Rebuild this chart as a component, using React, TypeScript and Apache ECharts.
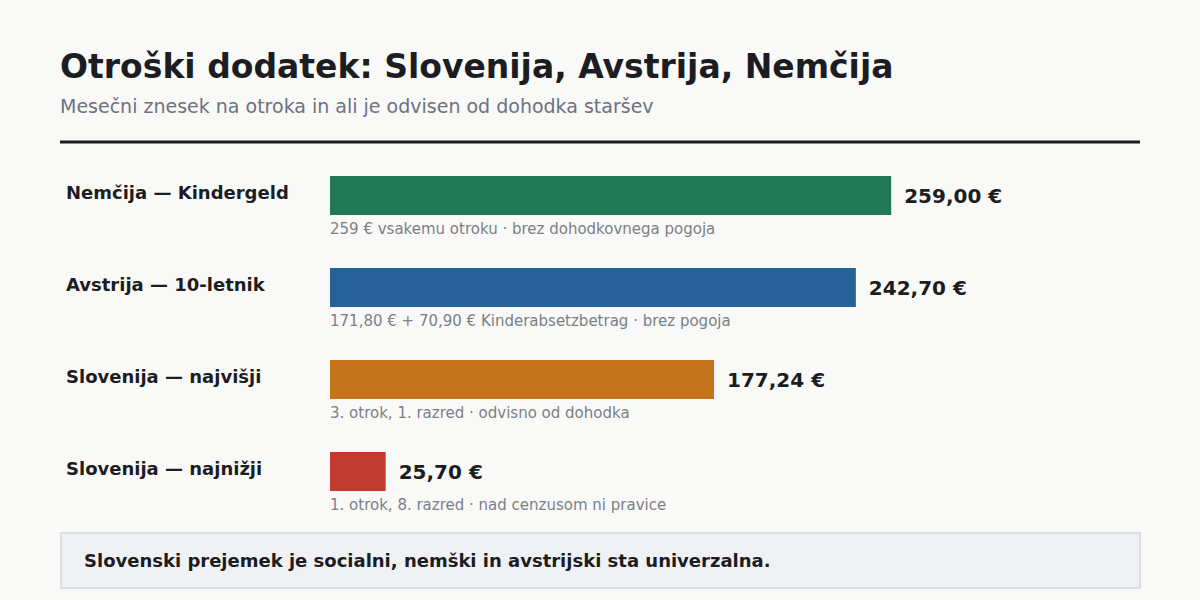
import * as echarts from 'echarts'
import { useEffect, useRef } from 'react'

const categories = ['Nemčija — Kindergeld', 'Avstrija — 10-letnik', 'Slovenija — najvišji', 'Slovenija — najnižji']
const amounts = [259.0, 242.7, 177.24, 25.7]
const barColors = ['#217a55', '#266197', '#c5741e', '#c23b30']
const notes = [
  '259 € vsakemu otroku · brez dohodkovnega pogoja',
  '171,80 € + 70,90 € Kinderabsetzbetrag · brez pogoja',
  '3. otrok, 1. razred · odvisno od dohodka',
  '1. otrok, 8. razred · nad cenzusom ni pravice',
]
const title = 'Otroški dodatek: Slovenija, Avstrija, Nemčija'
const subtitle = 'Mesečni znesek na otroka in ali je odvisen od dohodka staršev'
const footnote = 'Slovenski prejemek je socialni, nemški in avstrijski sta univerzalna.'

const font = '"DejaVu Sans", Verdana, sans-serif'
const ink = '#1c1d22'

function formatEuro(value: number) {
  return `${value.toFixed(2).replace('.', ',')} €`
}

export default function App() {
  const chartRef = useRef<HTMLDivElement>(null)

  useEffect(() => {
    document.body.style.margin = '0'
    const element = chartRef.current
    if (!element) return
    const instance = echarts.init(element, null, { renderer: 'svg' })

    instance.setOption({
      animation: false,
      backgroundColor: '#f9f9f8',
      textStyle: { fontFamily: font },
      grid: { left: 330, right: 220, top: 149.5, bottom: 82.5, containLabel: false },
      xAxis: {
        type: 'value',
        min: 0,
        max: 300,
        show: false,
      },
      yAxis: {
        type: 'category',
        inverse: true,
        data: categories,
        axisLine: { show: false },
        axisTick: { show: false },
        splitLine: { show: false },
        axisLabel: {
          align: 'left',
          verticalAlign: 'bottom',
          lineHeight: 7,
          margin: 264,
          color: ink,
          fontSize: 18,
          fontWeight: 'bold',
          fontFamily: font,
        },
      },
      series: [
        {
          type: 'bar',
          barWidth: 39,
          data: amounts.map((value, i) => ({ value, itemStyle: { color: barColors[i] } })),
          label: {
            show: true,
            position: 'right',
            distance: 13,
            color: ink,
            fontSize: 20,
            fontWeight: 'bold',
            fontFamily: font,
            formatter: (p: { value: number }) => formatEuro(p.value),
          },
          silent: true,
        },
        {
          type: 'custom',
          silent: true,
          data: notes.map((_, i) => [0, i]),
          renderItem: (params: { dataIndex: number }, api: any) => {
            const pos = api.coord([0, params.dataIndex])
            return {
              type: 'text',
              x: pos[0],
              y: pos[1] + 33.5,
              style: {
                text: notes[params.dataIndex],
                fill: '#7b7f87',
                fontSize: 15,
                fontFamily: font,
                verticalAlign: 'middle',
              },
            }
          },
        },
      ],
      graphic: [
        {
          type: 'text',
          x: 60,
          y: 66,
          style: { text: title, fill: ink, fontSize: 33, fontWeight: 'bold', fontFamily: font, verticalAlign: 'middle' },
        },
        {
          type: 'text',
          x: 60,
          y: 106,
          style: { text: subtitle, fill: '#6b7280', fontSize: 19, fontFamily: font, verticalAlign: 'middle' },
        },
        {
          type: 'line',
          shape: { x1: 60, y1: 142, x2: 1140, y2: 142 },
          style: { stroke: ink, lineWidth: 3 },
        },
        {
          type: 'rect',
          shape: { x: 61, y: 533, width: 1079, height: 55 },
          style: { fill: '#f0f1f5', stroke: '#d4d6db', lineWidth: 1.5 },
        },
        {
          type: 'text',
          x: 84,
          y: 560,
          style: { text: footnote, fill: ink, fontSize: 18, fontWeight: 'bold', fontFamily: font, verticalAlign: 'middle' },
        },
      ],
    })

    return () => instance.dispose()
  }, [])

  return <div ref={chartRef} style={{ width: 1200, height: 600 }} />
}
